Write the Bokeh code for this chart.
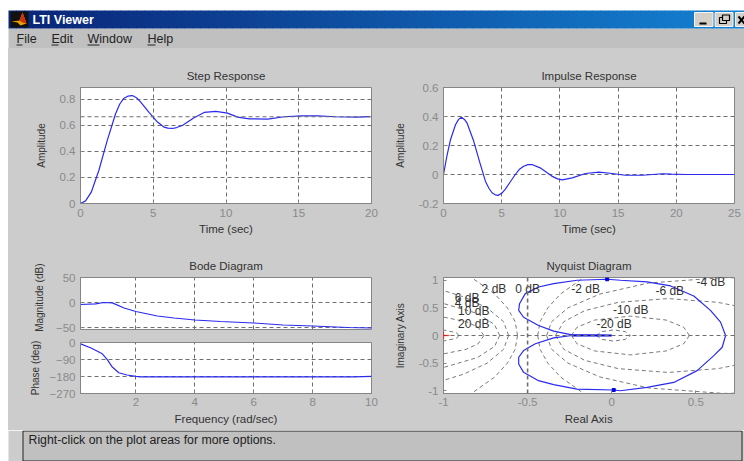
from bokeh.plotting import figure
from bokeh.layouts import column, row
from bokeh.models import Range1d, FixedTicker, Span, BoxAnnotation, Spacer, Title
from bokeh.core.properties import value
from bokeh.embed import file_html
from bokeh.resources import INLINE

FONT = "Liberation Sans"
BG = "#cccccc"
BLUE = "#2a2af0"
GRID = "#6e6e6e"
TICKC = "#858585"
LABC = "#333333"

# ---------- data ----------
step_t = [0, .35, .74, 1.26, 1.84, 2.41, 2.7, 2.99, 3.25, 3.56, 3.85, 4.14, 4.71, 5.29, 5.75, 6.0, 6.32, 6.6, 7.0, 7.8, 8.5, 9.3, 10.1, 10.8, 11.6, 12.87, 14, 15.2, 16.3, 17.5, 19, 19.9]
step_v = [0, .02, .087, .254, .485, .69, .765, .81, .825, .83, .813, .78, .70, .626, .587, .58, .577, .584, .60, .66, .70, .708, .695, .664, .651, .649, .667, .674, .674, .667, .664, .668]
step_final = 0.667
step_xticks = [0, 5, 10, 15, 20]
step_yticks = [0, .2, .4, .6, .8]
step_ylabels = ["0", "0.2", "0.4", "0.6", "0.8"]

imp_t = [0, .3, .6, 1.03, 1.3, 1.54, 1.8, 2.03, 2.6, 3.09, 3.6, 3.9, 4.17, 4.45, 4.69, 5.0, 5.3, 5.7, 6.17, 6.5, 6.89, 7.25, 7.6, 8.3, 9.3, 9.8, 10.2, 11.06, 12.2, 13.35, 14.5, 15.6, 17.1, 18.8, 19.6, 20.8, 25]
imp_v = [0, .13, .24, .343, .38, .395, .38, .354, .229, .091, -.046, -.095, -.126, -.14, -.144, -.13, -.103, -.055, 0, .034, .057, .068, .069, .046, -.011, -.03, -.037, -.023, .007, .016, .007, -.005, -.005, .005, .002, 0, 0]
imp_xticks = [0, 5, 10, 15, 20, 25]
imp_yticks = [-.2, 0, .2, .4, .6]
imp_ylabels = ["-0.2", "0", "0.2", "0.4", "0.6"]

mag_w = [.12, .63, .91, 1.2, 1.6, 2, 2.73, 3.3, 4, 4.88, 6, 7, 8, 9.2, 10]
mag_db = [-4, -2.6, 0, -.7, -11, -18, -27, -31, -35, -38, -41, -45, -47, -50, -51]
phase_w = [.12, .46, .86, 1.03, 1.2, 1.42, 1.7, 2, 2.16, 9.4, 10]
phase_deg = [-7, -28, -60, -91, -130, -160, -172, -179, -182, -182, -179]
bode_xticks = [2, 4, 6, 8, 10]
mag_yticks = [-50, 0, 50]
phase_yticks = [-270, -180, -90, 0]

nyq_re = [0, -.236, -.345, -.435, -.524, -.553, -.548, -.514, -.435, -.345, -.206, -.027, .052, .21, .35, .488, .587, .647, .677,
          .657, .607, .508, .369, .21, .052, .012, -.206, -.345, -.435, -.524, -.553, -.553, -.524, -.454, -.345, -.236, 0]
nyq_im = [0, .01, .08, .18, .33, .455, .576, .758, .878, .94, 1.0, 1.018, 1.0, .97, .897, .715, .455, .242, 0,
          -.212, -.364, -.636, -.85, -.94, -1.0, -.987, -.97, -.89, -.818, -.667, -.515, -.394, -.273, -.15, -.042, 0, 0]
nyq_arrow_re = [-.027, .012]
nyq_arrow_im = [1.018, -.987]
nyq_xticks = [-1, -.5, 0, .5]
nyq_xlabels = ["-1", "-0.5", "0", "0.5"]
nyq_yticks = [-1, -.5, 0, .5, 1]
nyq_ylabels = ["-1", "-0.5", "0", "0.5", "1"]

# constant-gain contours, upper half (mirrored below the axis)
contours = {
    "-2": ([-.44, -.426, -.38, -.305, -.166], [0, .25, .5, .75, 1.05]),
    "-4": ([-.387, -.357, -.26, -.071, .219, .661, .73], [0, .25, .5, .75, .95, 1.048, 1.045]),
    "-6": ([-.334, -.285, -.16, .039, .335, .631, .73], [0, .25, .45, .6, .669, .6, .54]),
    "-10": ([-.24, -.206, -.101, .111, .323, .428, .462], [0, .15, .28, .351, .28, .15, 0]),
    "-20": ([-.091, -.06, .01, .08, .111], [0, .07, .101, .07, 0]),
    "2": ([-.56, -.574, -.62, -.695, -.834], [0, .25, .5, .75, 1.05]),
    "4": ([-.613, -.643, -.74, -.881, -1], [0, .25, .5, .7, .813]),
    "6": ([-.666, -.697, -.799, -1], [0, .2, .4, .579]),
    "10": ([-.76, -.794, -.865, -1], [0, .15, .25, .333]),
    "20": ([-.909, -.922, -1], [0, .05, .1]),
}
db_text = ["2 dB", "0 dB", "-2 dB", "-4 dB", "-6 dB", "-10 dB", "-20 dB", "6 dB", "4 dB", "10 dB", "20 dB"]
db_x = [-.7, -.5, -.155, .59, .345, .113, .014, -.86, -.86, -.82, -.82]
db_y = [.84, .84, .84, .96, .8, .47, .206, .685, .594, .44, .21]

menu_items = ["File", "Edit", "Window", "Help"]
window_title = "LTI Viewer"
status_text = "Right-click on the plot areas for more options."


def plot(w, h, left, right, top, bottom, xr, yr, xticks, yticks, ylabels=None, xlabels=None,
         title=None, xlabel=None, ylabel=None, xgrid=True, ygrid=True, show_x=True):
    p = figure(width=w, height=h, output_backend="svg", toolbar_location=None,
               x_range=Range1d(*xr), y_range=Range1d(*yr),
               min_border_left=left, min_border_right=right, min_border_top=top, min_border_bottom=bottom,
               background_fill_color="white", border_fill_color=BG, outline_line_color=TICKC, outline_line_width=1)
    if title:
        p.title.text = title
        p.title.align = "center"
        p.title.text_font = FONT
        p.title.text_font_size = "11.5px"
        p.title.text_font_style = "normal"
        p.title.text_color = LABC
        p.title.standoff = 11
    for ax, ticks, labels, lab, sz in ((p.xaxis[0], xticks, xlabels, xlabel, "11.5px"), (p.yaxis[0], yticks, ylabels, ylabel, "10px")):
        ax.ticker = FixedTicker(ticks=ticks)
        ax.major_label_text_font = FONT
        ax.major_label_text_font_size = "11.5px"
        ax.major_label_text_color = "#8a8a8a"
        ax.major_tick_in = 3
        ax.major_tick_out = 0
        ax.minor_tick_in = 0
        ax.minor_tick_out = 0
        ax.major_tick_line_color = TICKC
        ax.axis_line_color = TICKC
        if labels:
            ax.major_label_overrides = dict(zip(ticks, labels))
        if lab:
            ax.axis_label = lab
            ax.axis_label_text_font = FONT
            ax.axis_label_text_font_size = sz
            ax.axis_label_text_font_style = "normal"
            ax.axis_label_text_color = LABC
    p.xaxis[0].major_label_standoff = 5
    p.yaxis[0].major_label_standoff = 5
    p.xaxis[0].axis_label_standoff = 3
    p.yaxis[0].axis_label_standoff = 10
    if not show_x:
        p.xaxis[0].visible = False
    p.xgrid.visible = xgrid
    p.ygrid.visible = ygrid
    p.grid.grid_line_color = GRID
    p.grid.grid_line_dash = "4 3"
    p.grid.grid_line_width = 1
    return p


# ---------- header ----------
head = figure(width=744, height=48, output_backend="svg", toolbar_location=None,
              x_range=Range1d(0, 744), y_range=Range1d(48, 0), x_axis_location=None, y_axis_location=None,
              min_border=0, outline_line_color=None, background_fill_color="white", border_fill_color="white")
head.grid.visible = False
head.quad(left=[8], right=[744], top=[28], bottom=[48], fill_color="#c0c0c0", line_color=None)
N = 92
c0, c1 = (10, 36, 120), (20, 130, 210)
for i in range(N):
    f = i / (N - 1)
    col = "#%02x%02x%02x" % tuple(int(a + (b - a) * f) for a, b in zip(c0, c1))
    head.quad(left=[8 + i * 8], right=[16.5 + i * 8], top=[10], bottom=[28], fill_color=col, line_color=None)
head.quad(left=[10], right=[28], top=[11], bottom=[27], fill_color="#111111", line_color=None)
head.patch([11, 19, 22, 26, 20, 17], [21, 20, 12, 23, 25, 22], fill_color="#e8a000", line_color=None)
head.patch([19, 22, 26, 22], [20, 12, 23, 22], fill_color="#d03010", line_color=None)
head.text([32], [19.5], text=[window_title], text_font=value(FONT), text_font_size="12.5px",
          text_font_style="bold", text_color="white", text_baseline="middle")
menu_x = [16, 51, 87, 147]
head.text(menu_x, [38.5] * 4, text=menu_items, text_font=value(FONT), text_font_size="12.5px",
          text_color="#222222", text_baseline="middle")
head.segment(x0=menu_x, x1=[22, 58, 99, 155], y0=[44.5] * 4, y1=[44.5] * 4, line_color="#222222", line_width=1)
for l, r in ((694, 712.5), (714.5, 732.5), (735, 744)):
    head.quad(left=[l], right=[r], top=[12], bottom=[26], fill_color="#d4d0c8", line_color="#f5f5f5")
head.segment(x0=[699], x1=[706], y0=[23], y1=[23], line_color="black", line_width=2)
head.quad(left=[719], right=[726], top=[17], bottom=[23], fill_color=None, line_color="black", line_width=1.2)
head.quad(left=[722], right=[729], top=[14.5], bottom=[20], fill_color="#d4d0c8", line_color="black", line_width=1.2)
head.segment(x0=[738, 738], x1=[744, 744], y0=[16, 23], y1=[23, 16], line_color="black", line_width=2)

# ---------- step ----------
p1 = plot(375, 195, 72, 12, 39, 40, (0, 20), (0, .892), step_xticks, step_yticks, step_ylabels,
          title="Step Response", xlabel="Time (sec)", ylabel="Amplitude")
p1.add_layout(Span(location=step_final, dimension="width", line_color=GRID, line_dash="4 3"))
p1.line(step_t, step_v, line_color=BLUE, line_width=1.2)

# ---------- impulse ----------
p2 = plot(361, 195, 60, 10, 39, 40, (0, 25), (-.2, .6), imp_xticks, imp_yticks, imp_ylabels,
          title="Impulse Response", xlabel="Time (sec)", ylabel="Amplitude")
p2.line(imp_t, imp_v, line_color=BLUE, line_width=1.2)

# ---------- bode ----------
p3 = plot(375, 92, 72, 12, 34, 6, (.12, 10), (-54, 50), bode_xticks, mag_yticks,
          title="Bode Diagram", show_x=False)
p3.add_layout(Title(text="Magnitude (dB)", align="right", offset=-14, standoff=16, text_font=FONT,
                    text_font_size="10px", text_font_style="normal", text_color=LABC), "left")
p3.line(mag_w, mag_db, line_color=BLUE, line_width=1.2)

p4 = plot(375, 95, 72, 12, 7, 37, (.12, 10), (-270, 0), bode_xticks, phase_yticks,
          xlabel="Frequency (rad/sec)", ylabel="Phase (deg)")
p4.xaxis[0].major_label_standoff = 4
p4.xaxis[0].axis_label_standoff = 4
p4.yaxis[0].axis_label_standoff = 6
p4.line(phase_w, phase_deg, line_color=BLUE, line_width=1.2)

# ---------- nyquist ----------
p5 = plot(361, 187, 60, 10, 34, 37, (-1, .73), (-1.05, 1.05), nyq_xticks, nyq_yticks, nyq_ylabels, nyq_xlabels,
          title="Nyquist Diagram", xlabel="Real Axis", ylabel="Imaginary Axis", xgrid=False, ygrid=False)
p5.xaxis[0].major_label_standoff = 4
p5.xaxis[0].axis_label_standoff = 4
for xs, ys in contours.values():
    p5.line(xs, ys, line_color="#7a7a7a", line_dash="4 3", line_width=1)
    p5.line(xs, [-v for v in ys], line_color="#7a7a7a", line_dash="4 3", line_width=1)
p5.add_layout(Span(location=0, dimension="width", line_color=GRID, line_dash="4 3"))
p5.add_layout(Span(location=-.5, dimension="height", line_color=GRID, line_dash="4 3", line_width=1.6))
p5.line(nyq_re, nyq_im, line_color=BLUE, line_width=1.2)
p5.line([nyq_re[0], nyq_re[1]], [nyq_im[0], nyq_im[0]], line_color="#0000e0", line_width=2.2)
p5.scatter(nyq_arrow_re, nyq_arrow_im, marker="square", size=3, color="#0000e0")
p5.add_layout(BoxAnnotation(left=-1.035, right=-.965, bottom=-.006, top=.006, fill_color="red", line_color="red", fill_alpha=1))
p5.add_layout(BoxAnnotation(left=-1.002, right=-.998, bottom=-.065, top=.065, fill_color="red", line_color="red", fill_alpha=1))
p5.text(db_x, db_y, text=db_text, text_font=value(FONT), text_font_size="12px", text_color=LABC,
        text_align="center", text_baseline="middle")

# ---------- status ----------
st = figure(width=744, height=31, output_backend="svg", toolbar_location=None,
            x_range=Range1d(0, 744), y_range=Range1d(461, 430), x_axis_location=None, y_axis_location=None,
            min_border=0, outline_line_color=None, background_fill_color="white", border_fill_color="white")
st.grid.visible = False
st.quad(left=[8], right=[744], top=[430], bottom=[461], fill_color=BG, line_color=None)
st.quad(left=[22.5], right=[741.5], top=[430.5], bottom=[460.5], fill_color="#c0c0c0", line_color="#222222")
st.text([28], [439], text=[status_text], text_font=value(FONT), text_font_size="12.3px", text_color="#222222",
        text_baseline="middle")

bgs = {"background-color": BG}
left = column(p1, p3, p4, spacing=0, styles=bgs)
right = column(p2, p5, spacing=0, styles=bgs)
page = column(head, row(Spacer(width=8, height=382), left, right, spacing=0), st, spacing=0)
open("out.html", "w").write(file_html(page, INLINE))
